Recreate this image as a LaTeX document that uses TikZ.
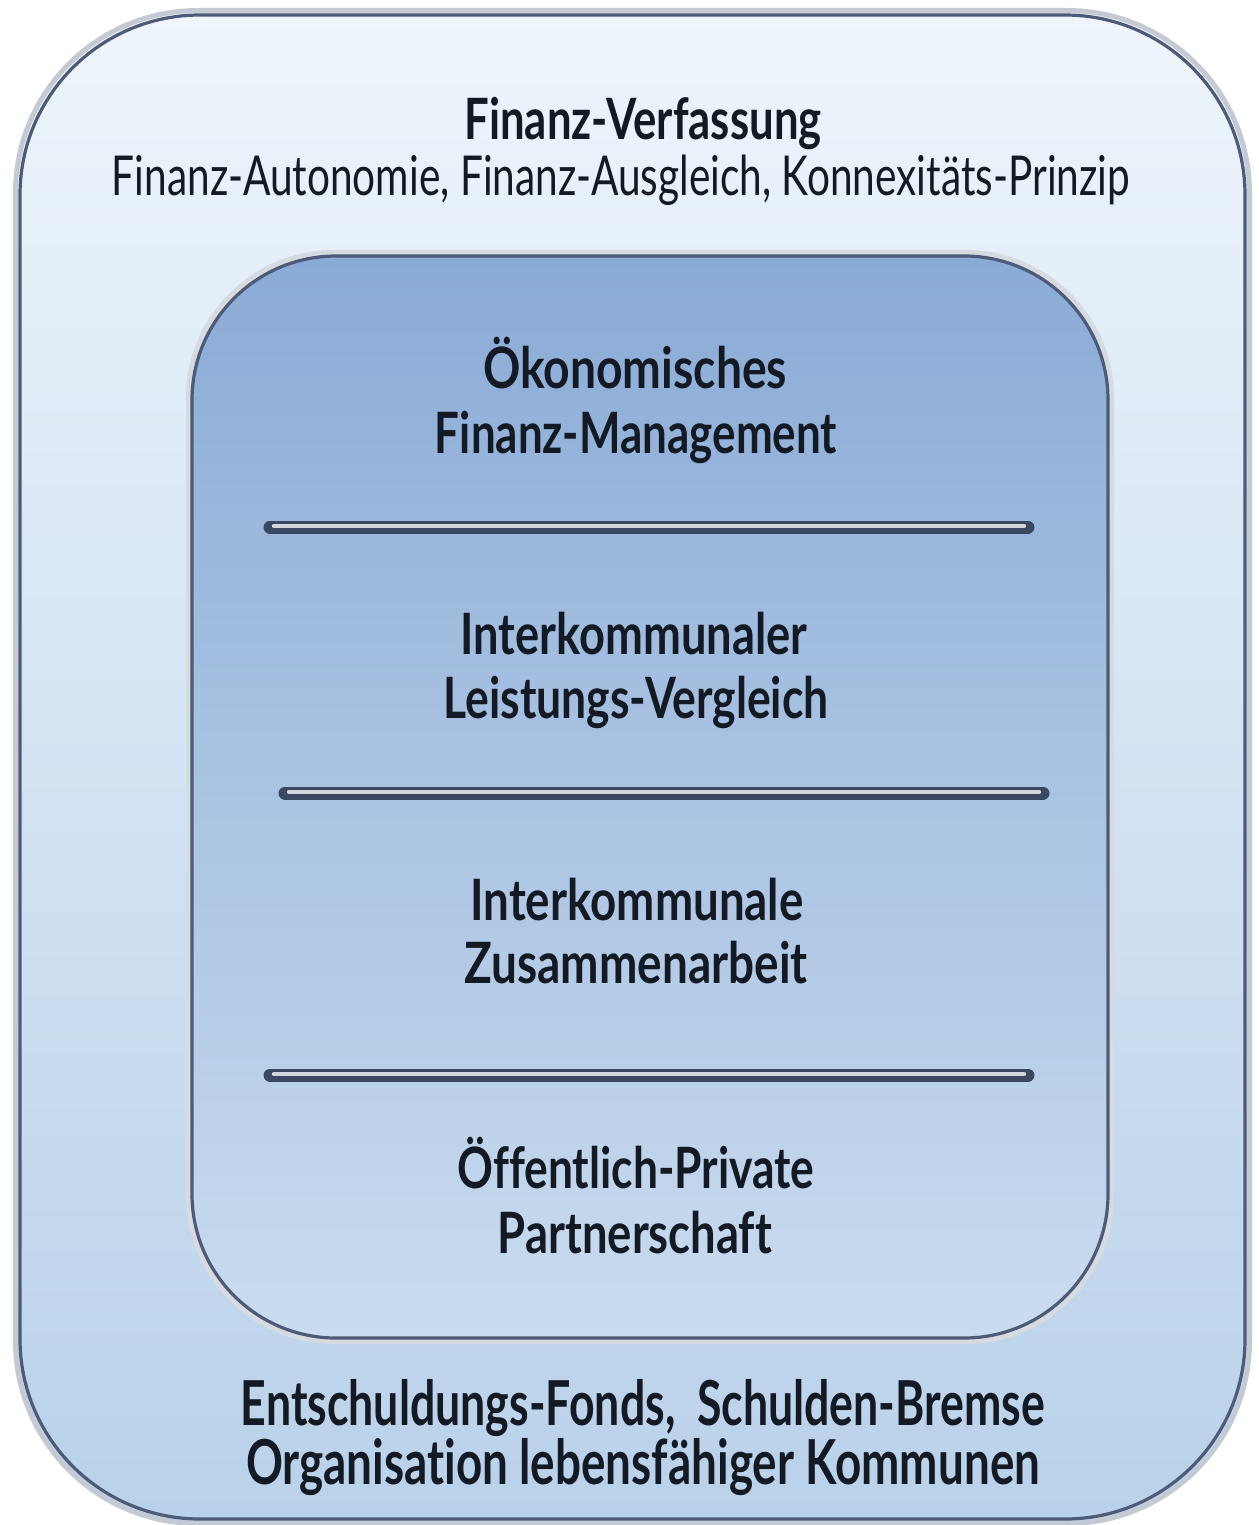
\documentclass[tikz,border=0pt]{standalone}
\usepackage{fontspec}
\usepackage{graphicx}
\setmainfont{Lato}[Ligatures=NoCommon]
\definecolor{outertop}{HTML}{EEF5FB}
\definecolor{outerbot}{HTML}{B9D1EA}
\definecolor{innertop}{HTML}{8AABD6}
\definecolor{innerbot}{HTML}{CADCEF}
\definecolor{edgedark}{HTML}{4E5B78}
\definecolor{edgelight}{HTML}{C4CAD4}
\definecolor{bardark}{HTML}{3A4862}
\definecolor{barlight}{HTML}{D2D7DD}
\definecolor{txt}{HTML}{141A24}
\newcommand\fitto[2]{\resizebox{#1}{\height}{#2}}
\tikzset{
  lbl/.style={anchor=base, inner sep=0pt, text=txt},
  bigbold/.style={lbl, font=\fontsize{28.5}{34}\selectfont\bfseries},
  bigreg/.style={lbl, font=\fontsize{27.5}{33}\selectfont},
  botbold/.style={lbl, font=\fontsize{31}{36}\selectfont\bfseries},
}
\newcommand\sepbar[3]{%
  \draw[line width=6.5pt, bardark, line cap=round] (#1,#3) -- (#2,#3);
  \draw[line width=2.2pt, barlight, line cap=round] (#1+4,#3-1) -- (#2-4,#3-1);
}
\begin{document}
\begin{tikzpicture}[x=0.5pt,y=-0.5pt]
\useasboundingbox (0,0) rectangle (1258,1525);
\fill[white] (0,0) rectangle (1258,1525);
% outer box
\draw[line width=5pt, edgelight, rounded corners=90pt] (18,13) rectangle (1247,1521);
\shade[top color=outertop, bottom color=outerbot, rounded corners=90pt] (18,13) rectangle (1247,1521);
\draw[line width=1.6pt, edgedark, rounded corners=90pt] (20,15) rectangle (1245,1519);
% inner box
\draw[line width=4pt, edgelight!70!white, rounded corners=72pt] (190,254) rectangle (1110,1340);
\shade[top color=innertop, bottom color=innerbot, rounded corners=72pt] (192,256) rectangle (1108,1338);
\draw[line width=1.6pt, edgedark, rounded corners=72pt] (192,256) rectangle (1108,1338);
% separators
\sepbar{270}{1028}{527}
\sepbar{285}{1043}{793}
\sepbar{270}{1028}{1075}
% texts
\node[bigbold] (t1) at (643,140) {\fitto{178.5pt}{Finanz-Verfassung}};
\node[bigreg]  (t2) at (621,195) {\fitto{509pt}{Finanz-Autonomie, Finanz-Ausgleich, Konnexitäts-Prinzip}};
\node[bigbold] (a1) at (635,388) {\fitto{152pt}{Ökonomisches}};
\node[bigbold] (a2) at (636,453) {\fitto{201pt}{Finanz-Management}};
\node[bigbold] (b1) at (634,654) {\fitto{173.5pt}{Interkommunaler}};
\node[bigbold] (b2) at (636,718) {\fitto{192.5pt}{Leistungs-Vergleich}};
\node[bigbold] (c1) at (637,920) {\fitto{166.5pt}{Interkommunale}};
\node[bigbold] (c2) at (636,983) {\fitto{171.5pt}{Zusammenarbeit}};
\node[bigbold] (d1) at (636,1188) {\fitto{178.5pt}{Öffentlich-Private}};
\node[bigbold] (d2) at (635,1253) {\fitto{137pt}{Partnerschaft}};
\node[botbold] (e1) at (643,1425) {\fitto{402pt}{Entschuldungs-Fonds,\ \ Schulden-Bremse}};
\node[botbold] (e2) at (643,1484) {\fitto{397pt}{Organisation lebensfähiger Kommunen}};
\end{tikzpicture}
\end{document}
